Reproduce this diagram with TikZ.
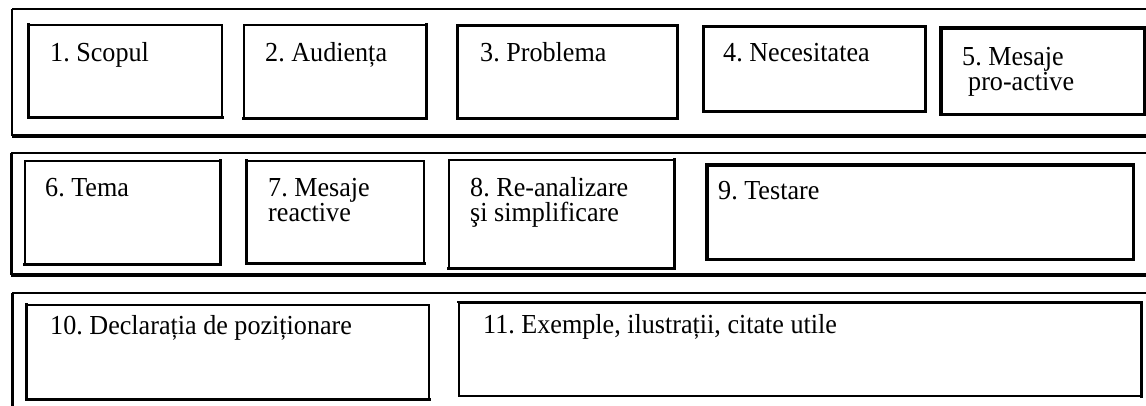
\documentclass[tikz,border=0pt]{standalone}
\usepackage{fontspec}
\setmainfont[FakeStretch=0.95]{Liberation Serif}
\tikzset{
  box/.style={draw=black, line width=1.6pt, anchor=north west, inner sep=0pt, fill=none},
  heavy/.style={draw=black, line width=3pt, line cap=rect},
  txt/.style={inner sep=0pt, anchor=base west, align=left, text=black,
              font=\fontsize{27.5}{25}\selectfont},
}
\frenchspacing
\begin{document}
\begin{tikzpicture}[x=1pt, y=1pt]
\useasboundingbox (0,0) rectangle (1146,-405);
\fill[white] (0,0) rectangle (1146,-405);
\clip (0,0) rectangle (1146,-405);

% ---- outer frames (open to the right edge) ----
\draw[line width=2.5pt] (1150,-9) -- (12,-9);
\draw[line width=1.6pt] (12,-9) -- (12,-136);
\draw[line width=3.5pt] (12,-136) -- (1150,-136);

\draw[line width=1.6pt] (1150,-153) -- (11,-153);
\draw[line width=3pt] (11,-153) -- (11,-275);
\draw[line width=3.5pt] (11,-275) -- (1150,-275);

\draw[line width=1.8pt] (1150,-293) -- (12,-293);
\draw[line width=3pt] (12,-293) -- (12,-410);

% ---- row 1 ----
\node[box, minimum width=193pt, minimum height=92pt] (b1) at (28,-24) {};
\node[box, minimum width=182pt, minimum height=93pt] (b2) at (243,-24) {};
\node[box, minimum width=219pt, minimum height=92pt] (b3) at (457,-25) {};
\node[box, minimum width=221pt, minimum height=84pt] (b4) at (703,-26) {};
\node[box, minimum width=202pt, minimum height=85pt] (b5) at (941,-28) {};

\draw[heavy] (b1.north west) -- (b1.south west) -- (b1.south east);
\draw[heavy] (b2.north east) -- (b2.south east) -- (b2.south west);
\draw[heavy, line width=2.6pt] (b3.north west) rectangle (b3.south east);
\draw[heavy, line width=2.6pt] (b4.north west) rectangle (b4.south east);
\draw[heavy, line width=3.2pt] (b5.north west) rectangle (b5.south east);

\node[txt] (t1) at (50,-61) {1. Scopul};
\node[txt] (t2) at (265,-61) {2. Audiența};
\node[txt] (t3) at (480,-61) {3. Problema};
\node[txt] (t4) at (723,-61) {4. Necesitatea};
\node[txt] (t5) at (962,-90) {5. Mesaje\\\hspace*{6pt}pro-active};

% ---- row 2 ----
\node[box, minimum width=195pt, minimum height=103pt] (b6) at (24,-160) {};
\node[box, minimum width=177pt, minimum height=102pt] (b7) at (246,-160) {};
\node[box, minimum width=225pt, minimum height=108pt] (b8) at (448,-159) {};
\node[box, minimum width=425pt, minimum height=93pt] (b9) at (707,-165) {};

\draw[heavy] (b6.north east) -- (b6.south east) -- (b6.south west);
\draw[heavy] (b7.north west) -- (b7.south west) -- (b7.south east);
\draw[heavy] (b8.north east) -- (b8.south east) -- (b8.south west);
\draw[heavy, line width=3.4pt] (b9.north west) rectangle (b9.south east);

\node[txt] (t6) at (45,-196) {6. Tema};
\node[txt] (t7) at (268,-221) {7. Mesaje\\reactive};
\node[txt] (t8) at (470,-221) {8. Re-analizare\\şi simplificare};
\node[txt] (t9) at (718,-199) {9. Testare};

% ---- row 3 ----
\node[box, minimum width=402pt, minimum height=94pt] (b10) at (26,-304) {};
\node[box, minimum width=682pt, minimum height=93pt] (b11) at (458,-302) {};

\draw[heavy] (b10.north west) -- (b10.south west) -- (b10.south east);
\draw[heavy, line width=2.6pt] (b11.south east) -- (b11.north east) -- (b11.north west);

\node[txt] (t10) at (50,-334) {10. Declarația de poziționare};
\node[txt] (t11) at (483,-333) {11. Exemple, ilustrații, citate utile};
\end{tikzpicture}
\end{document}
